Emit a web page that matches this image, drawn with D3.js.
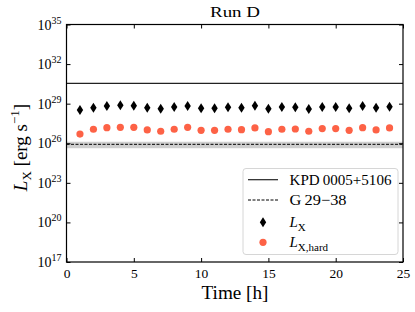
<!DOCTYPE html>
<html><head><meta charset="utf-8">
<script src="https://cdn.jsdelivr.net/npm/d3@7"></script>
<style>body{margin:0;background:#fff}svg{display:block}</style>
</head><body><svg id="c" width="415" height="312"></svg>
<script>
const hours = [1,2,3,4,5,6,7,8,9,10,11,12,13,14,15,16,17,18,19,20,21,22,23,24];
const LX = [3.31e28,5.01e28,6.76e28,7.59e28,7.08e28,5.01e28,4.17e28,5.62e28,6.76e28,4.47e28,4.47e28,5.37e28,
            5.01e28,7.08e28,4.17e28,5.62e28,5.37e28,3.98e28,5.62e28,5.62e28,4.47e28,6.76e28,5.01e28,5.89e28];
const LXhard = [5.0e26,1.15e27,1.51e27,1.62e27,1.62e27,1.02e27,8.1e26,1.15e27,1.62e27,9.5e26,9.5e26,1.15e27,
                1.07e27,1.45e27,7.6e26,1.15e27,1.20e27,8.1e26,1.29e27,1.29e27,9.5e26,1.51e27,1.02e27,1.45e27];
const kpdLevel = 3.5e30;
const g29Level = 8.3e25;
const g29Band = [4.2e25, 1.3e26];
const xTicks = [0,5,10,15,20,25];
const yTickExps = [17,20,23,26,29,32,35];
const legendLabels = ["KPD\u20090005+5106","G\u200929\u221238","L_X","L_X,hard"];

const FF = '"Liberation Serif"';
const svg = d3.select("#c");
const m = {l:66.5, r:403, t:24.5, b:262};
const x = d3.scaleLinear().domain([0,25]).range([m.l,m.r]);
const y = d3.scaleLog().domain([1e17,1e35]).range([m.b,m.t]);
const red = "#fd6246";
const T = (sel)=>sel.style("font-family",FF).style("fill","#000");

svg.append("rect").attr("x",m.l).attr("width",m.r-m.l)
  .attr("y",y(g29Band[1])).attr("height",y(g29Band[0])-y(g29Band[1]))
  .attr("fill","#cfcfcf");
svg.append("line").attr("x1",m.l).attr("x2",m.r).attr("y1",y(g29Level)).attr("y2",y(g29Level))
  .attr("stroke","#000").attr("stroke-width",1).attr("stroke-dasharray","3,1.5");
svg.append("line").attr("x1",m.l).attr("x2",m.r).attr("y1",y(kpdLevel)).attr("y2",y(kpdLevel))
  .attr("stroke","#222").attr("stroke-width",1.2);

const diamond = (cx,cy)=>`M${cx},${cy-5} L${cx+3.2},${cy} L${cx},${cy+5} L${cx-3.2},${cy} Z`;
svg.append("g").selectAll("path").data(hours).join("path")
  .attr("d",(d,i)=>diamond(x(d),y(LX[i]))).attr("fill","#000");
svg.append("g").selectAll("circle").data(hours).join("circle")
  .attr("cx",d=>x(d)).attr("cy",(d,i)=>y(LXhard[i])).attr("r",3.6).attr("fill",red);

svg.append("rect").attr("x",m.l).attr("y",m.t).attr("width",m.r-m.l).attr("height",m.b-m.t)
  .attr("fill","none").attr("stroke","#000").attr("stroke-width",1.2);

const yTickVals = yTickExps.map(e=>Math.pow(10,e));
const ax = svg.append("g");
ax.append("g").attr("transform",`translate(0,${m.b})`)
  .call(d3.axisBottom(x).tickValues(xTicks).tickSizeInner(-4).tickSizeOuter(0).tickPadding(6).tickFormat(d3.format("d")))
  .call(g=>{g.attr("font-family",null); g.select(".domain").remove(); T(g.selectAll("text")).style("font-size","13.5px");});
ax.append("g").attr("transform",`translate(0,${m.t})`)
  .call(d3.axisTop(x).tickValues(xTicks).tickSizeInner(-4).tickSizeOuter(0).tickFormat(""))
  .call(g=>g.select(".domain").remove());
ax.append("g").attr("transform",`translate(${m.l},0)`)
  .call(d3.axisLeft(y).tickValues(yTickVals).tickSizeInner(-4).tickSizeOuter(0).tickFormat(""))
  .call(g=>g.select(".domain").remove());
ax.append("g").attr("transform",`translate(${m.r},0)`)
  .call(d3.axisRight(y).tickValues(yTickVals).tickSizeInner(-4).tickSizeOuter(0).tickFormat(""))
  .call(g=>g.select(".domain").remove());
ax.selectAll(".tick line").attr("stroke","#000").attr("stroke-width",1);

yTickExps.forEach(e=>{
  const t = T(svg.append("text")).attr("x",m.l-5).attr("y",y(Math.pow(10,e))+5)
    .attr("text-anchor","end").style("font-size","14px");
  t.append("tspan").text("10");
  t.append("tspan").style("font-size","10px").attr("dy",-6).text(String(e));
});

T(svg.append("text")).attr("x",235).attr("y",17).attr("text-anchor","middle").style("font-size","15.5px")
  .attr("textLength",50).attr("lengthAdjust","spacingAndGlyphs").text("Run D");
T(svg.append("text")).attr("x",235).attr("y",299).attr("text-anchor","middle").style("font-size","19px")
  .attr("textLength",67).attr("lengthAdjust","spacingAndGlyphs").text("Time [h]");
const yl = T(svg.append("text")).attr("transform",`translate(27,147.5) rotate(-90)`)
  .attr("text-anchor","middle").style("font-size","19px");
yl.append("tspan").style("font-style","italic").text("L");
yl.append("tspan").style("font-size","13px").attr("dy",4).text("X");
yl.append("tspan").attr("dy",-4).text(" [erg s");
yl.append("tspan").style("font-size","13px").attr("dy",-8).text("\u22121");
yl.append("tspan").attr("dy",8).text("]");

const lg = svg.append("g");
lg.append("rect").attr("x",243).attr("y",168.5).attr("width",155).attr("height",86).attr("rx",3)
  .attr("fill","#fff").attr("fill-opacity",0.85).attr("stroke","#d6d6d6").attr("stroke-width",1);
const rowsY = [179.7,200,222.3,242.3];
lg.append("line").attr("x1",248).attr("x2",278).attr("y1",rowsY[0]).attr("y2",rowsY[0]).attr("stroke","#222").attr("stroke-width",1.2);
lg.append("line").attr("x1",248).attr("x2",278).attr("y1",rowsY[1]).attr("y2",rowsY[1]).attr("stroke","#000").attr("stroke-width",1).attr("stroke-dasharray","3,1.5");
lg.append("path").attr("d",diamond(263,rowsY[2])).attr("fill","#000");
lg.append("circle").attr("cx",263).attr("cy",rowsY[3]).attr("r",3.6).attr("fill",red);
const tx = 289.5, fs = "15px";
T(lg.append("text")).attr("x",tx).attr("y",rowsY[0]+5).style("font-size",fs).attr("textLength",102).attr("lengthAdjust","spacingAndGlyphs").text(legendLabels[0]);
T(lg.append("text")).attr("x",tx).attr("y",rowsY[1]+5).style("font-size",fs).attr("textLength",57).attr("lengthAdjust","spacingAndGlyphs").text(legendLabels[1]);
[2,3].forEach(k=>{
  const parts = legendLabels[k].split("_");
  const t = T(lg.append("text")).attr("x",tx).attr("y",rowsY[k]+5).style("font-size",fs);
  t.append("tspan").style("font-style","italic").text(parts[0]);
  t.append("tspan").style("font-size","11px").attr("dy",3.5).text(parts[1]);
});
</script></body></html>
